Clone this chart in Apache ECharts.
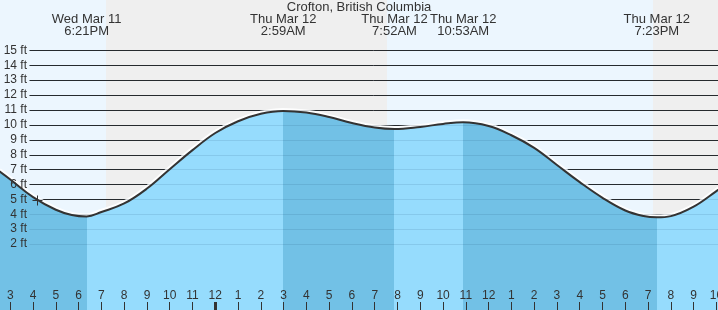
<!DOCTYPE html>
<html><head><meta charset="utf-8">
<script src="https://cdn.jsdelivr.net/npm/echarts@6/dist/echarts.min.js"></script>
<style>html,body{margin:0;padding:0;background:#ecf6fe}#c{width:718px;height:310px}</style>
</head><body><div id="c"></div>
<script>
// ---- data (hours counted from Wed Mar 11 00:00) ----
const titleText = 'Crofton, British Columbia';
const tideTimes   = [14.5, 15, 16, 17, 17.7, 18.35, 19, 20, 21, 22, 23, 24, 25, 26, 26.983, 28, 29, 30, 31, 31.867, 33, 34, 34.883, 36, 37, 38, 39, 40, 41, 42, 42.8, 43.383, 44, 45, 46, 46.3];
const tideHeights = [6.9, 6.33, 5.15, 4.3, 3.95, 3.85, 4.15, 4.72, 5.72, 7.02, 8.3, 9.45, 10.24, 10.74, 10.93, 10.82, 10.52, 10.12, 9.82, 9.72, 9.86, 10.06, 10.17, 9.92, 9.3, 8.45, 7.3, 6.15, 5.1, 4.25, 3.88, 3.79, 3.87, 4.5, 5.55, 5.9];
const eventTimes  = [18.35, 26.983, 31.867, 34.883, 43.383];
const eventLabels = ['Wed Mar 11\n6:21PM', 'Thu Mar 12\n2:59AM', 'Thu Mar 12\n7:52AM', 'Thu Mar 12\n10:53AM', 'Thu Mar 12\n7:23PM'];
const nightStarts = [19.2, 43.21];
const nightEnds   = [31.54, 46.07];
const footTicks   = [2, 3, 4, 5, 6, 7, 8, 9, 10, 11, 12, 13, 14, 15];
const hourTicks   = [15, 16, 17, 18, 19, 20, 21, 22, 23, 24, 25, 26, 27, 28, 29, 30, 31, 32, 33, 34, 35, 36, 37, 38, 39, 40, 41, 42, 43, 44, 45, 46];
const midnightTicks = [24];
const nowTime = [16.19];
const nowHeight = [4.95];

// ---- layout / style ----
const X_MIN = 14.548, X_MAX = 46.07, Y_MIN = -2.43, Y_MAX = 18.376;
const FONT = '"Liberation Sans", Arial, sans-serif';
const DARK_WATER = '#72c1e6', LIGHT_WATER = '#96dcfd';
const LINE_LEFT = 29.5;

const tidePts = tideTimes.map((t, i) => [t, tideHeights[i]]);

const pieces = [];
for (let i = 0; i <= eventTimes.length; i++) {
  const p = { color: i % 2 === 0 ? DARK_WATER : LIGHT_WATER };
  if (i > 0) p.gte = eventTimes[i - 1];
  if (i < eventTimes.length) p.lt = eventTimes[i];
  pieces.push(p);
}

function hLines(color, z) {
  return {
    type: 'custom', z: z, silent: true,
    data: footTicks.map(v => [X_MIN, v]),
    encode: { x: 0, y: 1 },
    renderItem: function (params, api) {
      const y = Math.round(api.coord([X_MIN, api.value(1)])[1]) + 0.5;
      const w = api.getWidth();
      return { type: 'line', shape: { x1: LINE_LEFT, y1: y, x2: w, y2: y }, style: { stroke: color, lineWidth: 1 } };
    }
  };
}

const chart = echarts.init(document.getElementById('c'), null, { renderer: 'canvas' });
const option = {
  animation: false,
  backgroundColor: '#ecf6fe',
  title: {
    text: titleText, left: 'center', top: 0, padding: [1, 0, 0, 0],
    textStyle: { fontSize: 13, fontWeight: 'normal', color: '#333', fontFamily: FONT }
  },
  grid: { left: 0, right: 0, top: 0, bottom: 0, containLabel: false, outerBoundsMode: 'none' },
  xAxis: [
    {
      type: 'value', min: X_MIN, max: X_MAX, z: 10, position: 'bottom',
      splitLine: { show: false }, axisLine: { show: false, onZero: false },
      axisTick: { show: true, inside: true, length: 8, lineStyle: { color: '#333', width: 1 }, customValues: hourTicks },
      axisLabel: {
        show: true, inside: true, margin: 8, customValues: hourTicks, color: '#333', fontSize: 12, fontFamily: FONT,
        hideOverlap: false,
        formatter: function (v) { const h = Math.round(v) % 12; return String(h === 0 ? 12 : h); }
      }
    },
    {
      type: 'value', min: X_MIN, max: X_MAX, position: 'bottom', offset: 0, z: 10,
      splitLine: { show: false }, axisLine: { show: false, onZero: false }, axisLabel: { show: false },
      axisTick: { show: true, inside: true, length: 8, lineStyle: { color: '#333', width: 3 }, customValues: midnightTicks }
    }
  ],
  yAxis: { type: 'value', min: Y_MIN, max: Y_MAX, show: false },
  visualMap: { type: 'piecewise', show: false, dimension: 0, seriesIndex: 3, pieces: pieces },
  series: [
    {
      type: 'custom', z: 0, silent: true,
      data: nightStarts.map((s, i) => [s, nightEnds[i]]),
      encode: { x: [0, 1] },
      renderItem: function (params, api) {
        const a = api.coord([api.value(0), Y_MAX]);
        const b = api.coord([api.value(1), Y_MIN]);
        return { type: 'rect', shape: { x: Math.round(a[0]), y: a[1], width: Math.round(b[0]) - Math.round(a[0]), height: b[1] - a[1] }, style: { fill: '#efefef' } };
      }
    },
    hLines('#2b2b2b', 1),
    {
      type: 'line', z: 1.5, data: tidePts, smooth: 0.4, symbol: 'none', silent: true,
      lineStyle: { color: 'rgba(255,255,255,0.9)', width: 6 }
    },
    {
      type: 'line', z: 2, data: tidePts, smooth: 0.4, symbol: 'none', silent: true,
      lineStyle: { width: 0 }, areaStyle: { opacity: 1, origin: 'start' }
    },
    hLines('rgba(0,40,80,0.1)', 3),
    {
      type: 'line', z: 5, data: tidePts, smooth: 0.4, symbol: 'none', silent: true,
      lineStyle: { color: '#333', width: 2 }
    },
    {
      type: 'custom', z: 6, silent: true,
      data: footTicks.map(v => [X_MIN, v]),
      encode: { x: 0, y: 1 },
      renderItem: function (params, api) {
        const v = api.value(1);
        const y = api.coord([X_MIN, v])[1];
        return { type: 'text', style: { x: 27, y: y, text: v + ' ft', align: 'right', verticalAlign: 'middle', fill: '#333', font: '12px ' + FONT } };
      }
    },
    {
      type: 'custom', z: 6, silent: true,
      data: eventTimes.map((t, i) => [t, Y_MAX, i]),
      encode: { x: 0, y: 1 },
      renderItem: function (params, api) {
        const x = api.coord([api.value(0), Y_MAX])[0];
        return { type: 'text', style: { x: x, y: 13.5, text: eventLabels[params.dataIndex], align: 'center', verticalAlign: 'top', lineHeight: 12, fill: '#333', font: '13px ' + FONT } };
      }
    },
    {
      type: 'custom', z: 7, silent: true,
      data: nowTime.map((t, i) => [t, nowHeight[i]]),
      encode: { x: 0, y: 1 },
      renderItem: function (params, api) {
        const p = api.coord([api.value(0), api.value(1)]);
        const cx = Math.round(p[0]) + 0.5, cy = Math.round(p[1]) + 0.5, r = 5;
        return { type: 'group', children: [
          { type: 'line', shape: { x1: cx - r, y1: cy, x2: cx + r, y2: cy }, style: { stroke: '#333', lineWidth: 1 } },
          { type: 'line', shape: { x1: cx, y1: cy - r, x2: cx, y2: cy + r }, style: { stroke: '#333', lineWidth: 1 } }
        ] };
      }
    }
  ]
};
chart.setOption(option);
</script>
</body></html>
